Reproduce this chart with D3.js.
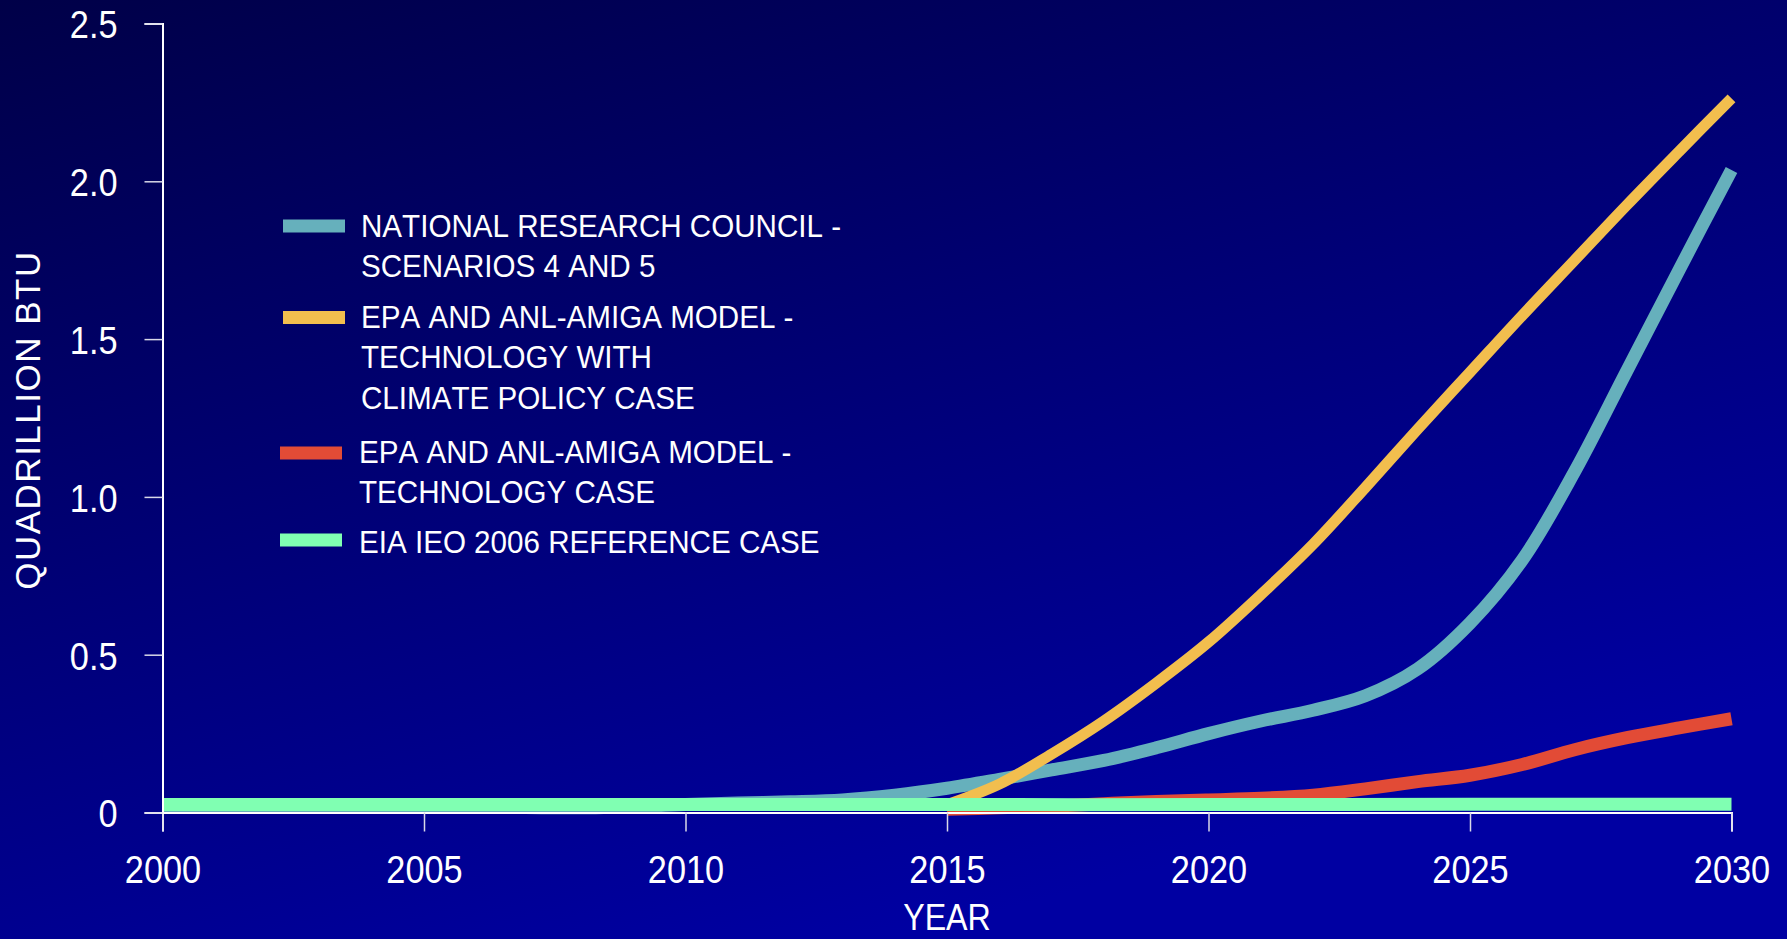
<!DOCTYPE html>
<html>
<head>
<meta charset="utf-8">
<script src="https://cdn.jsdelivr.net/npm/d3@7"></script>
<style>
  html, body { margin: 0; padding: 0; overflow: hidden; background: #000060; }
  svg { display: block; }
</style>
</head>
<body>
<svg id="chart" width="1787" height="939"></svg>
<script>
// ---------- data ----------
const years = [2000, 2005, 2008, 2010, 2011, 2012, 2013, 2014, 2015, 2016, 2017, 2018, 2019, 2020,
               2021, 2022, 2023, 2024, 2025, 2026, 2027, 2028, 2029, 2030];
const nrcValues = [0.02, 0.02, 0.015, 0.025, 0.03, 0.034, 0.04, 0.055, 0.077, 0.105, 0.135, 0.165, 0.205, 0.25,
                   0.29, 0.324, 0.37, 0.455, 0.6, 0.8, 1.08, 1.40, 1.72, 2.036];
const climateYears = [2015, 2016, 2017, 2018, 2019, 2020, 2021, 2022, 2023, 2024, 2025, 2026, 2027, 2028, 2029, 2030];
const climateValues = [0.025, 0.09, 0.185, 0.29, 0.41, 0.54, 0.69, 0.85, 1.03, 1.215, 1.395, 1.575, 1.75, 1.925, 2.095, 2.263];
const techYears = [2015, 2016, 2017, 2018, 2019, 2020, 2021, 2022, 2023, 2024, 2025, 2026, 2027, 2028, 2029, 2030];
const techValues = [0.01, 0.015, 0.02, 0.028, 0.035, 0.04, 0.045, 0.055, 0.075, 0.098, 0.118, 0.152, 0.199, 0.237, 0.268, 0.297];
const eiaYears = [2000, 2005, 2010, 2015, 2020, 2025, 2030];
const eiaValues = [0.025, 0.025, 0.025, 0.025, 0.025, 0.026, 0.026];

const xTicks = [2000, 2005, 2010, 2015, 2020, 2025, 2030];
const yTicks = [0, 0.5, 1.0, 1.5, 2.0, 2.5];
const yTickLabels = ["0", "0.5", "1.0", "1.5", "2.0", "2.5"];

const seriesNames = ["nrc", "climate", "tech", "eia"];
const seriesColors = ["#66B0BC", "#F2BE4E", "#E24B36", "#80FFB2"];
const legendLines = [
  ["NATIONAL RESEARCH COUNCIL -", "SCENARIOS 4 AND 5"],
  ["EPA AND ANL-AMIGA MODEL -", "TECHNOLOGY WITH", "CLIMATE POLICY CASE"],
  ["EPA AND ANL-AMIGA MODEL -", "TECHNOLOGY CASE"],
  ["EIA IEO 2006 REFERENCE CASE"]
];
const xTitle = "YEAR";
const yTitle = "QUADRILLION BTU";

// ---------- layout ----------
const W = 1787, H = 939;
const svg = d3.select("#chart");
const defs = svg.append("defs");
const grad = defs.append("linearGradient").attr("id", "bg")
  .attr("x1", "0").attr("y1", "0").attr("x2", "0.5").attr("y2", "1");
grad.append("stop").attr("offset", "0").attr("stop-color", "#000048");
grad.append("stop").attr("offset", "1").attr("stop-color", "#0000A2");
svg.append("rect").attr("width", W).attr("height", H).attr("fill", "url(#bg)");

const x = d3.scaleLinear().domain([2000, 2030]).range([162.5, 1731.5]);
const y = d3.scaleLinear().domain([0, 2.5]).range([812.5, 23.5]);

const font = "'Liberation Sans', Arial, Helvetica, sans-serif";
const tickScale = 0.88;   // condensed look of the original lettering
const legendScale = 0.955;

// ---------- series ----------
const line = d3.line().x(d => x(d[0])).y(d => y(d[1])).curve(d3.curveCatmullRom.alpha(0.5));
const seriesData = [
  d3.zip(years, nrcValues),
  d3.zip(climateYears, climateValues),
  d3.zip(techYears, techValues),
  d3.zip(eiaYears, eiaValues)
];
const widths = [13, 11, 13, 13];
const plot = svg.append("g");
seriesData.forEach((d, i) => {
  plot.append("path")
    .attr("class", "series " + seriesNames[i])
    .attr("d", line(d))
    .attr("fill", "none")
    .attr("stroke", seriesColors[i])
    .attr("stroke-width", widths[i])
    .attr("stroke-linejoin", "round")
    .attr("stroke-linecap", "butt");
});

// ---------- axes ----------
const xAxis = svg.append("g").attr("transform", `translate(0,${y(0)})`)
  .call(d3.axisBottom(x).tickValues(xTicks).tickFormat(d3.format("d")).tickSize(19).tickSizeOuter(19));
xAxis.select(".domain").attr("stroke", "#ffffff").attr("stroke-width", 2);
xAxis.selectAll(".tick line").attr("stroke", "#d8d8e8").attr("stroke-width", 1.5);
xAxis.selectAll(".tick text")
  .attr("fill", "#ffffff").attr("font-family", font).attr("font-size", 39)
  .attr("transform", `scale(${tickScale},1)`)
  .attr("y", 71).attr("dy", 0);

const yAxis = svg.append("g").attr("transform", `translate(${x(2000)},0)`)
  .call(d3.axisLeft(y).tickValues(yTicks).tickFormat((d, i) => yTickLabels[i]).tickSize(18).tickSizeOuter(18));
yAxis.select(".domain").attr("stroke", "#ffffff").attr("stroke-width", 2);
yAxis.selectAll(".tick line").attr("stroke", "#d8d8e8").attr("stroke-width", 1.5);
yAxis.selectAll(".tick text")
  .attr("fill", "#ffffff").attr("font-family", font).attr("font-size", 39)
  .attr("transform", `scale(${tickScale},1)`)
  .attr("x", -45 / tickScale).attr("dy", "0.37em");

// axis titles
svg.append("text")
  .attr("transform", `translate(${(x(2000) + x(2030)) / 2},930) scale(0.87,1)`)
  .attr("text-anchor", "middle")
  .attr("fill", "#ffffff").attr("font-family", font).attr("font-size", 37)
  .text(xTitle);

svg.append("text")
  .attr("transform", "translate(40,420) rotate(-90)")
  .attr("text-anchor", "middle")
  .attr("fill", "#ffffff").attr("font-family", font).attr("font-size", 35)
  .attr("letter-spacing", 1.5)
  .text(yTitle);

// ---------- legend ----------
const legendSwatchY = [226, 317.5, 453, 540];
const legendSwatchX = [283, 283, 280, 280];
const legendTextX = [361, 361, 359, 359];
const legendFirstBaseline = [237, 328, 463, 553];
const legend = svg.append("g");
legendLines.forEach((lines, i) => {
  legend.append("rect")
    .attr("x", legendSwatchX[i]).attr("y", legendSwatchY[i] - 6.5)
    .attr("width", 62).attr("height", 13)
    .attr("fill", seriesColors[i]);
  const t = legend.append("text")
    .attr("transform", `translate(${legendTextX[i]},0) scale(${legendScale},1)`)
    .attr("fill", "#ffffff").attr("font-family", font).attr("font-size", 31)
    .style("font-kerning", "none");
  lines.forEach((s, j) => {
    t.append("tspan").attr("x", 0).attr("y", legendFirstBaseline[i] + j * 40.5).text(s);
  });
});
</script>
</body>
</html>
